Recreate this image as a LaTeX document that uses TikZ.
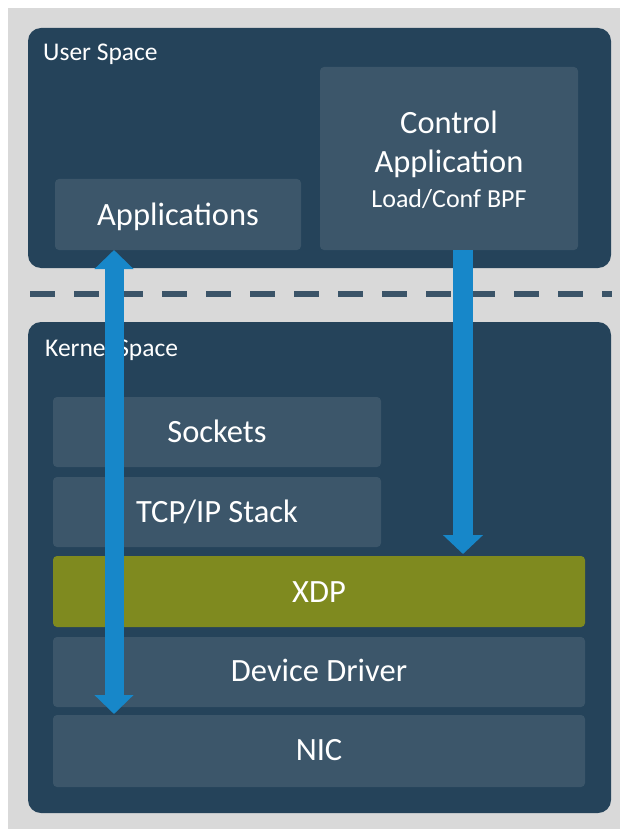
\documentclass[tikz,border=0pt]{standalone}
\usepackage{fontspec}
\setmainfont{Carlito}
\usetikzlibrary{arrows.meta}
\definecolor{panelgray}{HTML}{D9D9D9}
\definecolor{outerblue}{HTML}{25435A}
\definecolor{innerblue}{HTML}{3C566A}
\definecolor{xdpolive}{HTML}{7F8A1F}
\definecolor{arrowblue}{HTML}{1787C9}
\definecolor{dashblue}{HTML}{3B5468}
\tikzset{
  outerbox/.style={fill=outerblue, rounded corners=13pt, inner sep=0pt, outer sep=0pt, anchor=north west},
  innerbox/.style={fill=innerblue, rounded corners=4pt, inner sep=0pt, outer sep=0pt, anchor=north west},
  xdpbox/.style={fill=xdpolive, rounded corners=4pt, inner sep=0pt, outer sep=0pt, anchor=north west},
  bigtext/.style={text=white, inner sep=0pt, anchor=base, font=\fontsize{32.5}{39}\selectfont},
  midtext/.style={text=white, inner sep=0pt, anchor=base, font=\fontsize{26}{31}\selectfont},
  areatext/.style={text=white, inner sep=0pt, anchor=base west, font=\fontsize{25.5}{30}\selectfont},
  divider/.style={draw=dashblue, line width=6pt, dash pattern=on 25pt off 19pt},
  bluearrow/.style={draw=arrowblue, line width=#1},
  bighead/.style={Triangle[width=38pt, length=19pt, fill=arrowblue]},
}
\begin{document}
\begin{tikzpicture}[x=1pt, y=-1pt]
\useasboundingbox (0,0) rectangle (620,829);
\fill[white] (0,0) rectangle (620,829);
\fill[panelgray] (8,8) rectangle (620,829);

% outer areas
\node[outerbox, minimum width=583pt, minimum height=240pt] (user) at (28,28) {};
\node[outerbox, minimum width=583pt, minimum height=491pt] (kernel) at (28,322) {};

% user space boxes
\node[innerbox, minimum width=246pt, minimum height=71pt] (apps) at (55,179) {};
\node[innerbox, minimum width=258pt, minimum height=183pt] (ctrl) at (320,67) {};

% kernel boxes
\node[innerbox, minimum width=328pt, minimum height=70pt] (sockets) at (53,397) {};
\node[innerbox, minimum width=328pt, minimum height=70pt] (tcp) at (53,477) {};
\node[xdpbox, minimum width=532pt, minimum height=71pt] (xdp) at (53,556) {};
\node[innerbox, minimum width=532pt, minimum height=70pt] (dd) at (53,637) {};
\node[innerbox, minimum width=532pt, minimum height=72pt] (nic) at (53,715) {};

% labels
\node[areatext] (userlbl) at (43,61) {User Space};
\node[areatext] (kernellbl) at (45,356) {Kernel Space};
\node[bigtext] (appslbl) at (178,225) {Applications};
\node[bigtext] (ctrl1) at (449,134) {Control};
\node[bigtext] (ctrl2) at (449,172) {Application};
\node[midtext] (ctrl3) at (449,207) {Load/Conf BPF};
\node[bigtext] (sockslbl) at (217,442) {Sockets};
\node[bigtext] (tcplbl) at (217,522) {TCP/IP Stack};
\node[bigtext] (xdplbl) at (319,602) {XDP};
\node[bigtext] (ddlbl) at (319,681) {Device Driver};
\node[bigtext] (niclbl) at (319,760) {NIC};

% divider
\coordinate (divL) at (30,294);
\coordinate (divR) at (612,294);
\path[divider] (divL) -- (divR);

% arrows
\coordinate (lx) at (114,0);
\coordinate (rx) at (463,0);
\draw[bluearrow=19pt, {Triangle[width=38pt, length=19pt]}-{Triangle[width=38pt, length=19pt]}, arrowblue]
  (apps.south -| lx) -- ([yshift=1pt]nic.north -| lx);
\draw[bluearrow=20pt, -{Triangle[width=39pt, length=19pt]}, arrowblue]
  (ctrl.south -| rx) -- ([yshift=2pt]xdp.north -| rx);
\end{tikzpicture}
\end{document}
